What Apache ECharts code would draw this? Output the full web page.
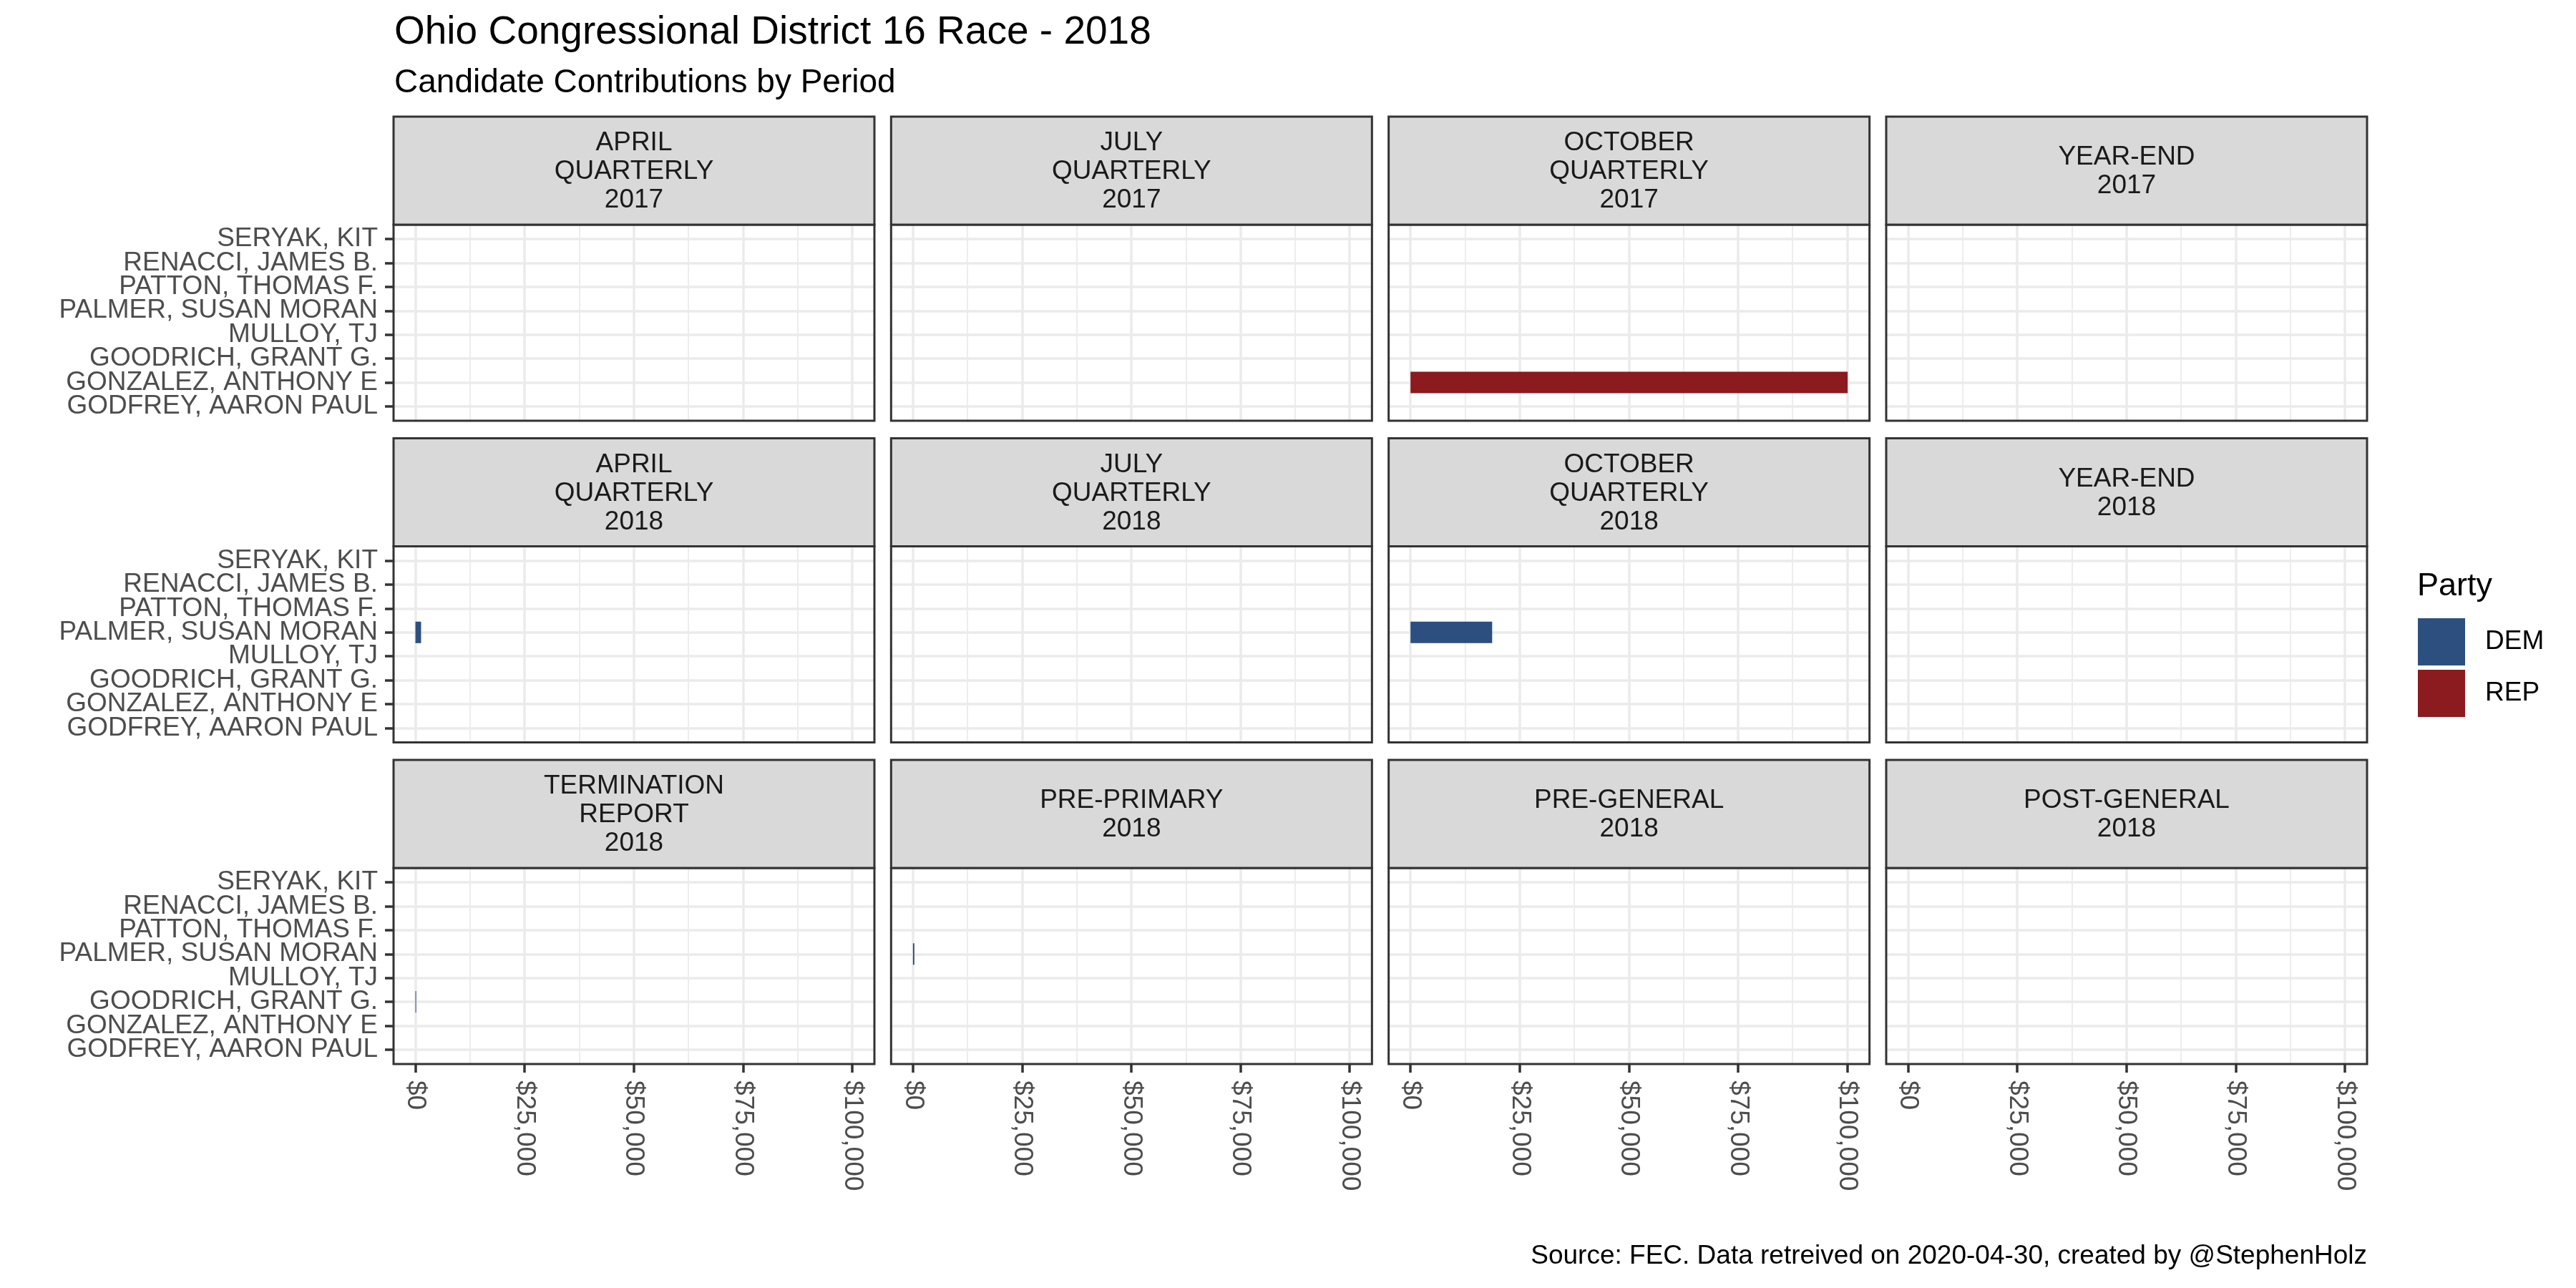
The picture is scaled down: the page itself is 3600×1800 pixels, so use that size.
<!DOCTYPE html>
<html>
<head>
<meta charset="utf-8">
<script src="https://cdn.jsdelivr.net/npm/echarts@6/dist/echarts.min.js"></script>
<style>
html,body{margin:0;padding:0;background:#ffffff;}
#chart{width:3600px;height:1800px;}
</style>
</head>
<body>
<div id="chart"></div>
<script>
// ---------------- data ----------------
const candidates = [
  'GODFREY, AARON PAUL', 'GONZALEZ, ANTHONY E', 'GOODRICH, GRANT G.', 'MULLOY, TJ',
  'PALMER, SUSAN MORAN', 'PATTON, THOMAS F.', 'RENACCI, JAMES B.', 'SERYAK, KIT'
];
const periods = [
  'APRIL\nQUARTERLY\n2017', 'JULY\nQUARTERLY\n2017', 'OCTOBER\nQUARTERLY\n2017', 'YEAR-END\n2017',
  'APRIL\nQUARTERLY\n2018', 'JULY\nQUARTERLY\n2018', 'OCTOBER\nQUARTERLY\n2018', 'YEAR-END\n2018',
  'TERMINATION\nREPORT\n2018', 'PRE-PRIMARY\n2018', 'PRE-GENERAL\n2018', 'POST-GENERAL\n2018'
];
const parties = ['DEM', 'REP'];
const partyColors = ['#2C4F80', '#8B1B1E'];

const barPeriod = ['OCTOBER\nQUARTERLY\n2017', 'APRIL\nQUARTERLY\n2018', 'OCTOBER\nQUARTERLY\n2018', 'TERMINATION\nREPORT\n2018', 'PRE-PRIMARY\n2018'];
const barCandidate = ['GONZALEZ, ANTHONY E', 'PALMER, SUSAN MORAN', 'PALMER, SUSAN MORAN', 'GOODRICH, GRANT G.', 'PALMER, SUSAN MORAN'];
const barParty = ['REP', 'DEM', 'DEM', 'DEM', 'DEM'];
const barAmount = [100100, 1300, 18700, 170, 320];

const xTicks = [0, 25000, 50000, 75000, 100000];
const xMinorTicks = [12500, 37500, 62500, 87500];
const xTickLabels = ['$0', '$25,000', '$50,000', '$75,000', '$100,000'];

const titleText = 'Ohio Congressional District 16 Race - 2018';
const subtitleText = 'Candidate Contributions by Period';
const captionText = 'Source: FEC. Data retreived on 2020-04-30, created by @StephenHolz';
const legendTitle = 'Party';

// ---------------- layout ----------------
const FONT = 'Liberation Sans';
const COL_LEFT0 = 550, COL_STEP = 695.33, PANEL_W = 672;
const ROW_TOP0 = 163, ROW_STEP = 449.5, STRIP_H = 151, PANEL_H = 274;
const GRID_MAJOR = '#EBEBEB', BORDER = '#333333', AXIS_TEXT = '#4D4D4D';

const maxAmt = Math.max.apply(null, barAmount);
const xMin = -0.05 * maxAmt, xMax = 1.05 * maxAmt;

const grids = [], xAxes = [], yAxes = [], series = [], graphics = [];

periods.forEach(function (p, i) {
  const r = Math.floor(i / 4), c = i % 4;
  const left = COL_LEFT0 + c * COL_STEP;
  const stripTop = ROW_TOP0 + r * ROW_STEP;
  const top = stripTop + STRIP_H;
  const unit = PANEL_H / (candidates.length - 1 + 1.2);
  const isLeft = c === 0, isBottom = r === 2;

  // strip
  graphics.push({
    type: 'rect', z: 10,
    shape: { x: left, y: stripTop, width: PANEL_W, height: STRIP_H },
    style: { fill: '#D9D9D9', stroke: BORDER, lineWidth: 3 }
  });
  graphics.push({
    type: 'text', z: 11, x: left + PANEL_W / 2, y: stripTop + STRIP_H / 2 + 1.5,
    style: {
      text: p, fill: '#1A1A1A', fontSize: 37, fontFamily: FONT, lineHeight: 40,
      align: 'center', verticalAlign: 'middle', textAlign: 'center', textVerticalAlign: 'middle'
    }
  });

  // grid A: full panel (vertical grid lines, x axis, border)
  const gA = grids.length;
  grids.push({ left: left, top: top, width: PANEL_W, height: PANEL_H, show: true,
    borderColor: BORDER, borderWidth: 3, backgroundColor: 'transparent', z: 5,
    containLabel: false, outerBoundsMode: 'none' });
  xAxes.push({
    gridIndex: gA, type: 'value', min: xMin, max: xMax, position: 'bottom', z: 1,
    axisLine: { show: false, onZero: false },
    axisTick: { show: isBottom, customValues: xTicks, length: 12, lineStyle: { color: BORDER, width: 3.5 } },
    axisLabel: { show: isBottom, customValues: xTicks, rotate: -90, margin: 23,
      color: AXIS_TEXT, fontSize: 37, fontFamily: FONT,
      formatter: function (v) { const k = xTicks.indexOf(v); return k >= 0 ? xTickLabels[k] : ''; } },
    splitLine: { show: true, lineStyle: { color: GRID_MAJOR, width: 3.5 } }
  });
  xAxes.push({
    gridIndex: gA, type: 'value', min: xMin, max: xMax, position: 'bottom', z: 0,
    axisLine: { show: false, onZero: false },
    axisTick: { show: false, customValues: xMinorTicks },
    axisLabel: { show: false, customValues: xMinorTicks },
    splitLine: { show: true, lineStyle: { color: GRID_MAJOR, width: 1.75 } }
  });
  yAxes.push({ gridIndex: gA, type: 'value', show: false, min: 0, max: 1, axisLine: { onZero: false } });

  // grid B: inset for discrete expansion (categories, bars)
  const gB = grids.length;
  grids.push({ left: left, top: top + 0.6 * unit, width: PANEL_W, height: (candidates.length - 1) * unit,
    show: false, containLabel: false, outerBoundsMode: 'none' });
  const xB = xAxes.length;
  xAxes.push({ gridIndex: gB, type: 'value', min: xMin, max: xMax, show: false, axisLine: { onZero: false } });
  const yB = yAxes.length;
  yAxes.push({
    gridIndex: gB, type: 'category', data: candidates, boundaryGap: false, z: 1, position: 'left',
    axisLine: { show: false, onZero: false },
    axisTick: { show: isLeft, interval: 0, length: 12, lineStyle: { color: BORDER, width: 3.5 } },
    axisLabel: { show: isLeft, interval: 0, margin: 22, color: AXIS_TEXT, fontSize: 37, fontFamily: FONT },
    splitLine: { show: true, interval: 0, lineStyle: { color: GRID_MAJOR, width: 3.5 } }
  });

  parties.forEach(function (party, pi) {
    let any = false;
    const vals = candidates.map(function (cand) {
      for (let k = 0; k < barAmount.length; k++) {
        if (barPeriod[k] === p && barCandidate[k] === cand && barParty[k] === party) { any = true; return barAmount[k]; }
      }
      return '-';
    });
    if (any) {
      series.push({
        type: 'bar', name: party, xAxisIndex: xB, yAxisIndex: yB, data: vals,
        stack: 'panel' + i, barWidth: 0.9 * unit, silent: true,
        itemStyle: { color: partyColors[pi] }
      });
    }
  });
});

// ensure legend has both parties even if unused
parties.forEach(function (party, pi) {
  if (!series.some(function (s) { return s.name === party; })) {
    series.push({ type: 'bar', name: party, xAxisIndex: 2, yAxisIndex: 1, data: [], itemStyle: { color: partyColors[pi] } });
  }
});

const option = {
  animation: false,
  backgroundColor: '#ffffff',
  textStyle: { fontFamily: FONT },
  title: [
    { text: titleText, left: 551, top: 18, padding: 0, textStyle: { fontSize: 55, fontWeight: 'normal', color: '#000000', fontFamily: FONT } },
    { text: subtitleText, left: 551, top: 93, padding: 0, textStyle: { fontSize: 46, fontWeight: 'normal', color: '#000000', fontFamily: FONT } },
    { text: captionText, right: 292, top: 1737, padding: 0, textStyle: { fontSize: 37, fontWeight: 'normal', color: '#000000', fontFamily: FONT } },
    { text: legendTitle, left: 3378, top: 797, padding: 0, textStyle: { fontSize: 45, fontWeight: 'normal', color: '#000000', fontFamily: FONT } }
  ],
  legend: {
    data: parties, orient: 'vertical', left: 3379, top: 864, padding: 0,
    itemWidth: 66, itemHeight: 66, itemGap: 6, icon: 'rect', selectedMode: false,
    itemStyle: { borderWidth: 0 },
    textStyle: { fontSize: 37, fontFamily: FONT, color: '#000000', padding: [0, 0, 0, 23] }
  },
  grid: grids,
  xAxis: xAxes,
  yAxis: yAxes,
  series: series,
  graphic: { elements: graphics }
};

const chart = echarts.init(document.getElementById('chart'), null, { renderer: 'canvas' });
chart.setOption(option);
</script>
</body>
</html>
